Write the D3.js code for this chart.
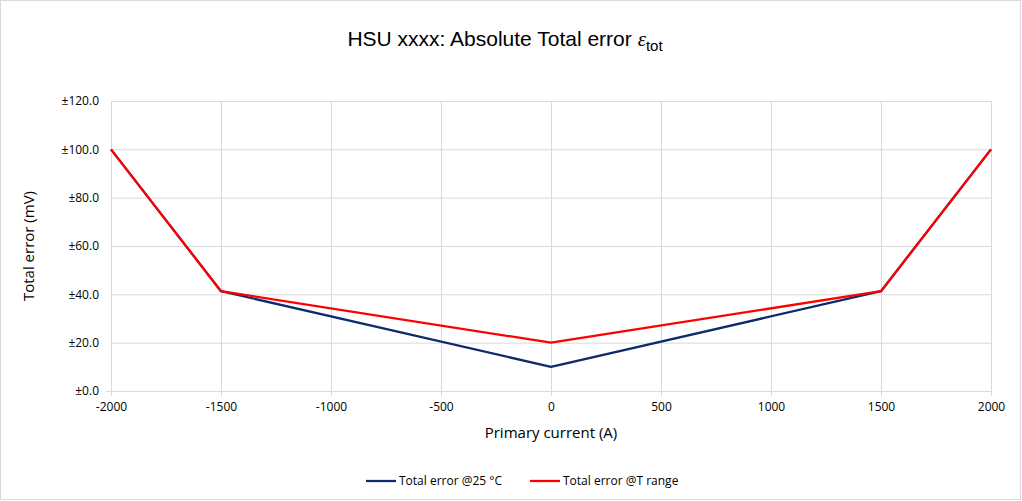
<!DOCTYPE html>
<html>
<head>
<meta charset="utf-8">
<script src="https://cdn.jsdelivr.net/npm/d3@7"></script>
<style>
  body { margin: 0; background: #fff; }
  svg { display: block; }
</style>
</head>
<body>
<svg width="1022" height="501"></svg>
<script>
// chart data
const currents = [-2000, -1500, 0, 1500, 2000]
const err25 = [100, 41.3, 10, 41.3, 100]
const errRange = [100, 41.3, 20, 41.3, 100]
const xTicks = [-2000, -1500, -1000, -500, 0, 500, 1000, 1500, 2000]
const yTicks = [0, 20, 40, 60, 80, 100, 120]
const seriesNames = ['Total error @25 °C', 'Total error @T range']

const colors = ['#0d2a6b', '#ff0000']

const svg = d3.select('svg')
const margin = {top: 101, right: 31, bottom: 110, left: 111}
const width = 1022 - margin.left - margin.right
const height = 501 - margin.top - margin.bottom

// outer frame
svg.append('rect')
  .attr('x', 0.5).attr('y', 0.5)
  .attr('width', 1020).attr('height', 499)
  .attr('fill', '#fff')
  .attr('stroke', '#d9d9d9')

const g = svg.append('g').attr('transform', 'translate(' + margin.left + ',' + margin.top + ')')

const x = d3.scaleLinear().domain([-2000, 2000]).range([0, width])
const y = d3.scaleLinear().domain([0, 120]).range([height, 0])

// gridlines
g.append('g')
  .selectAll('line')
  .data(yTicks.slice(1))
  .enter().append('line')
    .attr('x1', 0).attr('x2', width)
    .attr('y1', d => y(d) + 0.5).attr('y2', d => y(d) + 0.5)
    .attr('stroke', '#d9d9d9')

g.append('g')
  .selectAll('line')
  .data(xTicks)
  .enter().append('line')
    .attr('x1', d => Math.round(x(d)) + 0.5).attr('x2', d => Math.round(x(d)) + 0.5)
    .attr('y1', 0).attr('y2', height + 5)
    .attr('stroke', '#d9d9d9')

// x axis - plain hyphen for negatives, like the original
const xAxis = g.append('g')
  .attr('transform', 'translate(0,' + height + ')')
  .call(d3.axisBottom(x).tickValues(xTicks).tickSize(0).tickPadding(11).tickFormat(d => String(d)))
xAxis.select('.domain').attr('stroke', '#d9d9d9').attr('d', 'M0,0.5H' + width)
xAxis.selectAll('text')
  .attr('font-family', 'Open Sans, sans-serif')
  .attr('font-size', 12)
  .attr('fill', '#000')

// y axis
const yAxis = g.append('g')
  .call(d3.axisLeft(y).tickValues(yTicks).tickSize(0).tickPadding(12).tickFormat(d => '±' + d3.format('.1f')(d)))
yAxis.select('.domain').remove()
yAxis.selectAll('text')
  .attr('font-family', 'Open Sans, sans-serif')
  .attr('font-size', 12)
  .attr('fill', '#000')
g.append('line')
  .attr('x1', -5).attr('x2', 0)
  .attr('y1', height + 0.5).attr('y2', height + 0.5)
  .attr('stroke', '#d9d9d9')

// lines
const line = d3.line()
  .x((d, i) => x(currents[i]))
  .y(d => y(d))

;[err25, errRange].forEach((vals, i) => {
  g.append('path')
    .datum(vals)
    .attr('fill', 'none')
    .attr('stroke', colors[i])
    .attr('stroke-width', 2.25)
    .attr('stroke-linejoin', 'round')
    .attr('d', line)
})

// title
const title = svg.append('text')
  .attr('x', 505).attr('y', 46)
  .attr('text-anchor', 'middle')
  .attr('font-family', 'Liberation Sans, Arial, sans-serif')
  .attr('font-size', 21)
  .attr('fill', '#000')
title.append('tspan').text('HSU xxxx: Absolute Total error ')
title.append('tspan')
  .attr('font-family', 'Liberation Serif, Times New Roman, serif')
  .attr('font-style', 'italic')
  .text('ε')
title.append('tspan')
  .attr('font-size', 15)
  .attr('dy', 5)
  .text('tot')

// axis titles
svg.append('text')
  .attr('x', margin.left + width / 2).attr('y', 438)
  .attr('text-anchor', 'middle')
  .attr('font-family', 'Open Sans, sans-serif')
  .attr('font-size', 15)
  .text('Primary current (A)')

svg.append('text')
  .attr('transform', 'translate(34,' + (margin.top + height / 2) + ') rotate(-90)')
  .attr('text-anchor', 'middle')
  .attr('font-family', 'Open Sans, sans-serif')
  .attr('font-size', 15)
  .text('Total error (mV)')

// legend
const legendX = [366, 530]
const legend = svg.append('g')
  .selectAll('g')
  .data(seriesNames)
  .enter().append('g')
    .attr('transform', (d, i) => 'translate(' + legendX[i] + ',481)')

legend.append('line')
  .attr('x1', 0).attr('x2', 30)
  .attr('stroke', (d, i) => colors[i])
  .attr('stroke-width', 2.25)

legend.append('text')
  .attr('x', 33)
  .attr('dy', '0.35em')
  .attr('font-family', 'Open Sans, sans-serif')
  .attr('font-size', 12)
  .text(d => d)
</script>
</body>
</html>
